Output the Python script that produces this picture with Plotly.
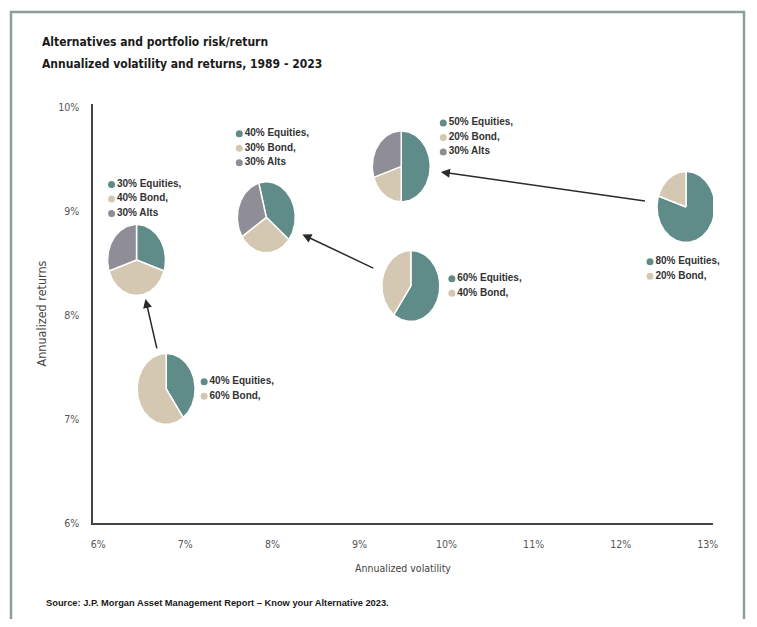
import numpy as np
import plotly.graph_objects as go

# Annualized volatility / returns per portfolio mix, 1989 - 2023
volatility = [6.78, 6.44, 7.93, 9.48, 9.59, 12.75]
returns = [7.29, 8.53, 8.94, 9.43, 8.28, 9.04]
equities = [40, 30, 40, 50, 60, 80]
bonds = [60, 40, 30, 20, 40, 20]
alts = [0, 30, 30, 30, 0, 0]
asset_names = ["Equities", "Bond", "Alts"]

# traditional portfolio -> portfolio with alternatives
arrow_pairs = [(0, 1), (4, 2), (5, 3)]

x_ticks = [6, 7, 8, 9, 10, 11, 12, 13]
y_ticks = [6, 7, 8, 9, 10]

# ---- layout / style ----
OFF = 8  # page body margin
W, H = 757 - 2 * OFF, 627 - 2 * OFF
ML, MR, MT, MB = 93 - OFF, 44 - OFF, 104 - OFF, 104 - OFF
X_RANGE = [5.94, 13.06]
Y_RANGE = [6.0, 10.03]
PX_X = (W - ML - MR) / (X_RANGE[1] - X_RANGE[0])
PX_Y = (H - MT - MB) / (Y_RANGE[1] - Y_RANGE[0])

colors = ["#5f8b89", "#d5c8b2", "#8f8d95"]
RX, RY = 29 / PX_X, 35.5 / PX_Y
start_angle = [0, 0, -15, 0, 0, 0]
label_offset = [(38, 0), (-25, -61), (-27, -69), (42, -29), (41, 0), (-36, 62)]  # px
LINE_GAP = 14.5
ARROW_GAP = 40

NARROW = "DejaVu Sans Condensed, Liberation Sans Narrow, Arial Narrow, sans-serif"
SANS = "Liberation Sans, Arial, sans-serif"

fig = go.Figure()

for i in range(len(volatility)):
    cx, cy = volatility[i], returns[i]
    a = start_angle[i]
    for k, val in enumerate([equities[i], bonds[i], alts[i]]):
        if val == 0:
            continue
        sweep = val * 3.6
        t = np.radians(np.linspace(a, a + sweep, max(4, int(sweep / 2))))
        xs = np.concatenate([[cx], cx + RX * np.sin(t), [cx]])
        ys = np.concatenate([[cy], cy + RY * np.cos(t), [cy]])
        fig.add_trace(go.Scatter(
            x=xs, y=ys, mode="lines", fill="toself", fillcolor=colors[k],
            line=dict(color="white", width=1.5), hoverinfo="skip", showlegend=False,
        ))
        a += sweep

# per-pie legends (dot + bold label)
for i in range(len(volatility)):
    vals = [(k, v) for k, v in enumerate([equities[i], bonds[i], alts[i]]) if v > 0]
    n = len(vals)
    dx, dy = label_offset[i]
    lx = volatility[i] + dx / PX_X
    ly0 = returns[i] - dy / PX_Y
    ys, texts, cols = [], [], []
    for j, (k, v) in enumerate(vals):
        ys.append(ly0 - (j - (n - 1) / 2) * LINE_GAP / PX_Y)
        label = f"{v}% {asset_names[k]}" + ("" if asset_names[k] == "Alts" else ",")
        texts.append(f"<b>{label}</b>")
        cols.append(colors[k])
    fig.add_trace(go.Scatter(
        x=[lx] * n, y=ys, mode="markers+text", text=texts, textposition="middle right",
        marker=dict(size=7, color=cols), textfont=dict(family=SANS, size=10, color="#333333"),
        cliponaxis=False, hoverinfo="skip", showlegend=False,
    ))

# arrows between pies
for a_i, b_i in arrow_pairs:
    x0, y0 = volatility[a_i] * PX_X, returns[a_i] * PX_Y
    x1, y1 = volatility[b_i] * PX_X, returns[b_i] * PX_Y
    d = np.hypot(x1 - x0, y1 - y0)
    ux, uy = (x1 - x0) / d, (y1 - y0) / d
    fig.add_annotation(
        x=(x1 - ux * ARROW_GAP) / PX_X, y=(y1 - uy * ARROW_GAP) / PX_Y,
        ax=(x0 + ux * ARROW_GAP) / PX_X, ay=(y0 + uy * ARROW_GAP) / PX_Y,
        xref="x", yref="y", axref="x", ayref="y", text="", showarrow=True,
        arrowhead=2, arrowsize=1.2, arrowwidth=1.5, arrowcolor="#2a2a2a",
    )


def px_to_paper(px, py):
    # px, py are window pixel positions
    return (px - OFF - ML) / (W - ML - MR), (H - MB - (py - OFF)) / (H - MT - MB)


tx, ty1 = px_to_paper(40, 42)
_, ty2 = px_to_paper(40, 64)
fig.add_annotation(x=tx, y=ty1, xref="paper", yref="paper", xanchor="left", yanchor="middle",
                   text="<b>Alternatives and portfolio risk/return</b>", showarrow=False,
                   font=dict(family=NARROW, size=12, color="#1a1a1a"))
fig.add_annotation(x=tx, y=ty2, xref="paper", yref="paper", xanchor="left", yanchor="middle",
                   text="<b>Annualized volatility and returns, 1989 - 2023</b>", showarrow=False,
                   font=dict(family=NARROW, size=12, color="#1a1a1a"))
sx, sy = px_to_paper(44, 603)
fig.add_annotation(x=sx, y=sy, xref="paper", yref="paper", xanchor="left", yanchor="middle",
                   text="<b>Source: J.P. Morgan Asset Management Report – Know your Alternative 2023.</b>",
                   showarrow=False, font=dict(family=SANS, size=9.3, color="#1a1a1a"))

# outer frame
bx0, by0 = px_to_paper(11, 660)
bx1, by1 = px_to_paper(744, 12)
fig.add_shape(type="rect", xref="paper", yref="paper", x0=bx0, y0=by0, x1=bx1, y1=by1,
              line=dict(color="#8a9e9a", width=2.5), fillcolor="rgba(0,0,0,0)", layer="below")

axis_common = dict(
    showgrid=False, zeroline=False, showline=True, linecolor="#444444", linewidth=1.5,
    ticks="outside", tickcolor="rgba(0,0,0,0)",
    tickfont=dict(family=NARROW, size=10.5, color="#555555"),
)
fig.update_xaxes(range=X_RANGE, tickvals=x_ticks, ticktext=[f"{v}%" for v in x_ticks], ticklen=11,
                 title=dict(text="Annualized volatility", standoff=15,
                            font=dict(family=NARROW, size=10.5, color="#444444")),
                 **axis_common)
fig.update_yaxes(range=Y_RANGE, tickvals=y_ticks, ticktext=[f"{v}%" for v in y_ticks], ticklen=10,
                 title=dict(text="Annualized returns", standoff=9,
                            font=dict(family=NARROW, size=12.5, color="#444444")),
                 **axis_common)

fig.update_layout(
    width=W, height=H, margin=dict(l=ML, r=MR, t=MT, b=MB),
    plot_bgcolor="white", paper_bgcolor="white", showlegend=False,
)

fig.write_html("out.html")
